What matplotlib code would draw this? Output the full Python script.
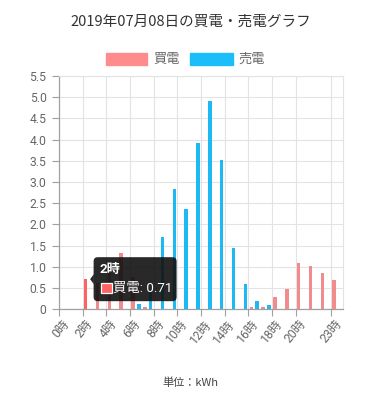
import matplotlib
matplotlib.use("Agg")
import matplotlib.pyplot as plt
import matplotlib.transforms as mtransforms
from matplotlib.patches import FancyBboxPatch, Polygon, Rectangle
import numpy as np

plt.rcParams['font.family'] = ['Roboto', 'Noto Sans CJK JP', 'DejaVu Sans']

# Data (kWh per hour)
hours = list(range(24))
hour_labels = [f'{h}時' for h in hours]
buy = [0, 0, 0.71, 0.62, 0.85, 1.32, 0.75, 0.05, 0, 0, 0, 0,
       0, 0, 0, 0, 0.05, 0.05, 0.29, 0.47, 1.09, 1.01, 0.85, 0.69]
sell = [0, 0, 0, 0, 0, 0, 0.13, 0.42, 1.70, 2.84, 2.37, 3.92,
        4.92, 3.52, 1.44, 0.59, 0.20, 0.10, 0, 0, 0, 0, 0, 0]
shown_ticks = [0, 2, 4, 6, 8, 10, 12, 14, 16, 18, 20, 23]
y_ticks = [0, 0.5, 1.0, 1.5, 2.0, 2.5, 3.0, 3.5, 4.0, 4.5, 5.0, 5.5]
hover_idx = 2

BUY_COLOR = '#f28b8d'
BUY_HOVER = '#ff6262'
SELL_COLOR = '#1cb9f2'
GRID = '#e3e3e3'
AXIS = '#a0a0a0'
TEXT = '#666666'

fig = plt.figure(figsize=(3.81, 4.00), dpi=100)
ax = fig.add_axes([59 / 381, 90.7 / 400, 284 / 381, 233.3 / 400])

x = np.arange(len(hours))
w = 0.3
buy_colors = [BUY_HOVER if i == hover_idx else BUY_COLOR for i in hours]
ax.bar(x - 0.245, buy, w, color=buy_colors, zorder=3)
ax.bar(x + 0.245, sell, w, color=SELL_COLOR, zorder=3)

ax.set_xlim(-0.5, 23.5)
ax.set_ylim(0, 5.5)

# y axis
ax.set_yticks(y_ticks)
ax.set_yticklabels(['0' if v == 0 else f'{v:.1f}' for v in y_ticks])
ax.tick_params(axis='y', length=5, width=0.8, color=AXIS, pad=4,
               labelsize=8.7, labelcolor=TEXT)
ax.yaxis.grid(True, color=GRID, linewidth=0.8, zorder=0)

# x axis: labels at category centres, grid/ticks at category edges
grid_pos = [t - 0.5 for t in shown_ticks]
ax.set_xticks(shown_ticks)
ax.set_xticklabels([hour_labels[t] for t in shown_ticks], rotation=50,
                   ha='right', va='top', rotation_mode='anchor')
ax.set_xticks(grid_pos, minor=True)
ax.tick_params(axis='x', which='major', length=0, pad=6,
               labelsize=8.7, labelcolor=TEXT)
ax.tick_params(axis='x', which='minor', length=5, width=0.8, color=AXIS)
ax.xaxis.grid(True, which='minor', color=GRID, linewidth=0.8, zorder=0)
offset = mtransforms.ScaledTranslation(-3 / 100, 0, fig.dpi_scale_trans)
for lbl in ax.get_xticklabels():
    lbl.set_transform(lbl.get_transform() + offset)

for side in ['left', 'bottom']:
    ax.spines[side].set_color(AXIS)
    ax.spines[side].set_linewidth(0.9)
for side in ['top', 'right']:
    ax.spines[side].set_color(GRID)
    ax.spines[side].set_linewidth(0.8)

# title and legend
fig.text(0.5, 1 - 22 / 400, '2019年07月08日の買電・売電グラフ', ha='center',
         va='center', fontsize=10.5, color='#333333',
         family=['Noto Sans CJK JP'])
fig.add_artist(Rectangle((106 / 381, 1 - 65 / 400), 41 / 381, 12 / 400,
                         transform=fig.transFigure, color='#ff8c8c'))
fig.text(153 / 381, 1 - 59 / 400, '買電', ha='left', va='center',
         fontsize=9.5, color=TEXT, family=['Noto Sans CJK JP'])
fig.add_artist(Rectangle((190 / 381, 1 - 65 / 400), 43 / 381, 12 / 400,
                         transform=fig.transFigure, color='#1cbef9'))
fig.text(238 / 381, 1 - 59 / 400, '売電', ha='left', va='center',
         fontsize=9.5, color=TEXT, family=['Noto Sans CJK JP'])

fig.text(190 / 381, 1 - 383 / 400, '単位：kWh', ha='center', va='center',
         fontsize=8, color='#444444', family=['Noto Sans CJK JP'])

# tooltip for the hovered bar
px_x = 284 / 24.0        # pixels per category
px_y = 233.3 / 5.5       # pixels per kWh
tip_x = hover_idx - 0.245 + 0.12 + 3 / px_x
tip_y = buy[hover_idx]
bx0 = tip_x + 3.5 / px_x
box_w = 83 / px_x
box_h = 44 / px_y
by0 = tip_y - 22 / px_y
tooltip = FancyBboxPatch((bx0, by0), box_w, box_h,
                         boxstyle='round,pad=0,rounding_size=0.35',
                         mutation_aspect=(px_x / px_y),
                         facecolor='#111111', edgecolor='none', alpha=0.9,
                         zorder=6, clip_on=False)
ax.add_patch(tooltip)
caret = Polygon([[tip_x, tip_y], [bx0 + 0.02, tip_y + 5 / px_y],
                 [bx0 + 0.02, tip_y - 5 / px_y]],
                closed=True, facecolor='#111111', edgecolor='none',
                alpha=0.9, zorder=6, clip_on=False)
ax.add_patch(caret)
ax.text(bx0 + 5.5 / px_x, by0 + box_h - 12 / px_y, hour_labels[hover_idx],
        ha='left', va='center', fontsize=9.5, fontweight='bold',
        color='white', zorder=7, family=['Roboto', 'Noto Sans CJK JP'])
ax.add_patch(Rectangle((bx0 + 7.5 / px_x, by0 + 8 / px_y), 10.5 / px_x,
                       10.5 / px_y, facecolor=BUY_HOVER, edgecolor='white',
                       linewidth=0.9, zorder=7, clip_on=False))
ax.text(bx0 + 19.5 / px_x, by0 + 13 / px_y, f'買電: {buy[hover_idx]:.2f}',
        ha='left', va='center', fontsize=9.6, color='white', zorder=7)

fig.savefig('out.png', dpi=100)
